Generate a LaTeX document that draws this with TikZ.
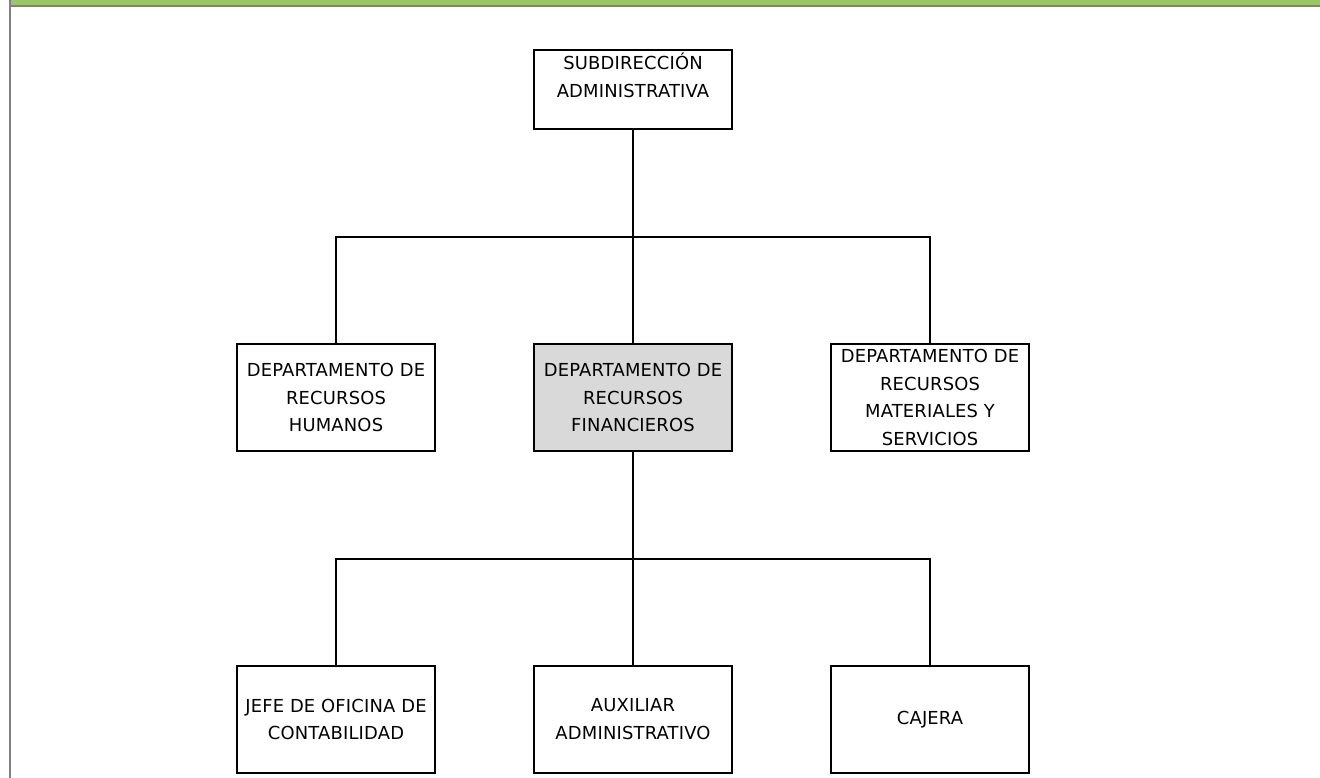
\documentclass[tikz,border=0pt]{standalone}
\usepackage{fontspec}
\newfontfamily\orgfont{DejaVu Sans}[LetterSpace=1]
\definecolor{barGreen}{RGB}{155,199,106}
\definecolor{frameGray}{RGB}{128,128,128}
\definecolor{boxGray}{RGB}{217,217,217}
\begin{document}
\begin{tikzpicture}[
    x=0.02cm, y=-0.02cm,
    box/.style={draw, line width=0.8pt, align=center, inner sep=0pt,
        minimum width=3.96cm, minimum height=2.14cm,
        font=\orgfont\fontsize{10.2}{15.9}\selectfont},
    link/.style={line width=0.8pt}
]
\useasboundingbox (0,0) rectangle (1320,778);
% frame
\fill[barGreen] (11,0) rectangle (1320,5);
\fill[frameGray] (11,5) rectangle (1320,7);
\fill[frameGray] (9,0) rectangle (11,778);

\node[box, minimum height=1.58cm] (sub) at (633,89.5) {SUBDIRECCIÓN\\ADMINISTRATIVA\\\mbox{}};

\node[box] (rh) at (336,397.5) {DEPARTAMENTO DE\\RECURSOS\\HUMANOS};
\node[box, fill=boxGray] (rf) at (633,397.5) {DEPARTAMENTO DE\\RECURSOS\\FINANCIEROS};
\node[box] (rm) at (930,397.5) {DEPARTAMENTO DE\\RECURSOS\\MATERIALES Y\\SERVICIOS};

\node[box] (jefe) at (336,719.5) {JEFE DE OFICINA DE\\CONTABILIDAD};
\node[box] (aux) at (633,719.5) {AUXILIAR\\ADMINISTRATIVO};
\node[box] (caja) at (930,719.5) {CAJERA};

\coordinate (bus1) at (633,237);
\coordinate (bus2) at (633,559);

\draw[link] (sub)--(rf);
\draw[link] (rh.north) |- (bus1) -| (rm.north);
\draw[link] (rf)--(aux);
\draw[link] (jefe.north) |- (bus2) -| (caja.north);
\end{tikzpicture}
\end{document}
